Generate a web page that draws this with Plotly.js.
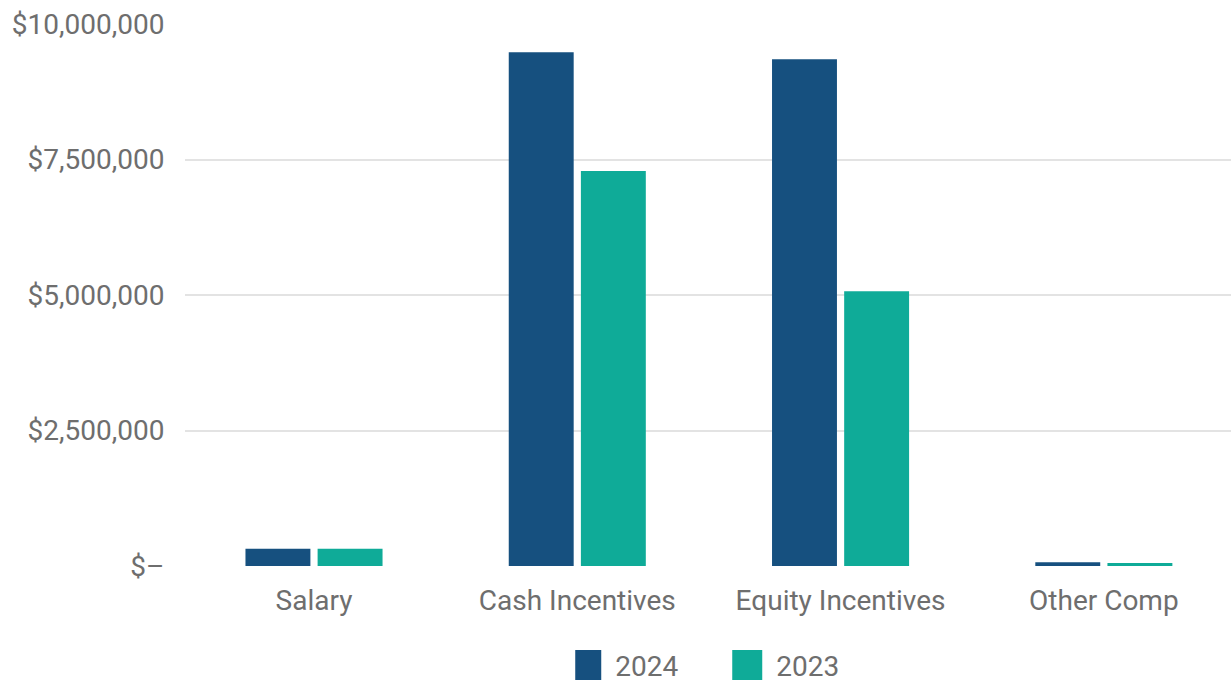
<!DOCTYPE html>
<html>
<head>
<meta charset="utf-8">
<script src="https://cdn.plot.ly/plotly-3.0.1.min.js"></script>
<style>
  html, body { margin: 0; padding: 0; background: #fff; }
  #chart { width: 1231px; height: 684px; }
</style>
</head>
<body>
<div id="chart"></div>
<script>
const categories = ["Salary", "Cash Incentives", "Equity Incentives", "Other Comp"];
const values2024 = [320000, 9480000, 9350000, 70000];
const values2023 = [320000, 7290000, 5070000, 55000];
const yTickVals = [0, 2500000, 5000000, 7500000, 10000000];
const yTickText = ["$\u2013", "$2,500,000", "$5,000,000", "$7,500,000", "$10,000,000"];

const fontFamily = "Roboto, 'Noto Sans', sans-serif";
const textColor = "#6e6e6e";

const traces = [
  { type: "bar", name: "2024", x: categories, y: values2024, marker: { color: "#16507f" }, hoverinfo: "skip" },
  { type: "bar", name: "2023", x: categories, y: values2023, marker: { color: "#0fab98" }, hoverinfo: "skip" }
];

const layout = {
  width: 1231, height: 684,
  margin: { l: 185, r: 0, t: 24, b: 118, autoexpand: false },
  paper_bgcolor: "#fff", plot_bgcolor: "#fff",
  barmode: "group", bargap: 0.452, bargroupgap: 0.1,
  font: { family: fontFamily, size: 28, color: textColor },
  showlegend: true,
  legend: {
    orientation: "h", x: 0.527, xanchor: "center", y: -0.183, yanchor: "middle",
    font: { family: fontFamily, size: 28, color: textColor },
    entrywidth: 116, entrywidthmode: "pixels",
    itemclick: false, itemdoubleclick: false, tracegroupgap: 0
  },
  xaxis: {
    type: "category", range: [-0.49, 3.483],
    showgrid: false, zeroline: false, showline: false,
    ticks: "outside", ticklen: 9, tickcolor: "rgba(0,0,0,0)",
    tickfont: { family: fontFamily, size: 28, color: textColor }
  },
  yaxis: {
    range: [0, 10000000], tickvals: yTickVals, ticktext: yTickText,
    showgrid: true, gridcolor: "#e3e3e3", gridwidth: 2,
    zeroline: false, showline: false,
    ticks: "outside", ticklen: 14, tickcolor: "rgba(0,0,0,0)",
    tickfont: { family: fontFamily, size: 28, color: textColor }
  }
};

Plotly.newPlot("chart", traces, layout, { staticPlot: true, displayModeBar: false }).then(function () {
  document.querySelectorAll(".legend .legendpoints path").forEach(function (p) {
    p.setAttribute("d", "M6,15H-24V-15H6Z");
  });
});
</script>
</body>
</html>
